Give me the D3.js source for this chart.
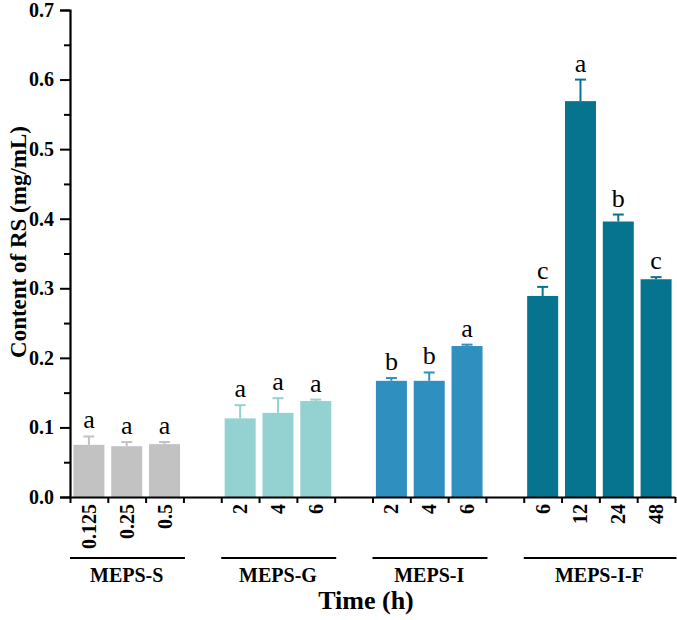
<!DOCTYPE html>
<html>
<head>
<meta charset="utf-8">
<script src="https://cdn.jsdelivr.net/npm/d3@7"></script>
<style>
  body { margin: 0; background: #fff; }
  text { font-family: "Liberation Serif", "Times New Roman", serif; }
</style>
</head>
<body>
<svg id="svg" width="677" height="620"></svg>
<script>
// groups and their time points
var groups = ["MEPS-S", "MEPS-G", "MEPS-I", "MEPS-I-F"];
var times = [["0.125", "0.25", "0.5"], ["2", "4", "6"], ["2", "4", "6"], ["6", "12", "24", "48"]];
var means = [[0.075, 0.073, 0.076], [0.113, 0.121, 0.138], [0.167, 0.167, 0.217], [0.289, 0.569, 0.396, 0.313]];
var errors = [[0.012, 0.006, 0.003], [0.019, 0.021, 0.002], [0.004, 0.012, 0.002], [0.013, 0.031, 0.010, 0.003]];
var letters = [["a", "a", "a"], ["a", "a", "a"], ["b", "b", "a"], ["c", "a", "b", "c"]];
var colors = ["#c2c2c2", "#94d2d2", "#2f8fbe", "#06738f"];
var yTicks = [0, 0.1, 0.2, 0.3, 0.4, 0.5, 0.6, 0.7];

// flatten into slots, one empty slot between groups
var data = [];
var slot = 0;
var groupSpans = [];
groups.forEach(function (g, gi) {
  var start = slot;
  times[gi].forEach(function (t, i) {
    data.push({group: g, gi: gi, time: t, slot: slot, mean: means[gi][i], err: errors[gi][i], letter: letters[gi][i]});
    slot++;
  });
  groupSpans.push({name: g, start: start, end: slot});
  slot++;
});
var nSlots = slot - 1;

var svg = d3.select("#svg");
var margin = {left: 70, right: 675, top: 10, bottom: 497};

var x = d3.scaleLinear().domain([0, nSlots]).range([margin.left, margin.right]);
var y = d3.scaleLinear().domain([0, 0.7]).range([margin.bottom, margin.top]);
var slotW = x(1) - x(0);
var barW = slotW * 0.82;

// bars
svg.selectAll(".bar")
  .data(data)
  .enter()
  .append("rect")
  .attr("x", function (d) { return x(d.slot + 0.5) - barW / 2; })
  .attr("y", function (d) { return y(d.mean); })
  .attr("width", barW)
  .attr("height", function (d) { return y(0) - y(d.mean); })
  .attr("fill", function (d) { return colors[d.gi]; });

// error bars (upper only)
var eb = svg.selectAll(".err").data(data).enter().append("g")
  .attr("stroke", function (d) { return colors[d.gi]; })
  .attr("stroke-width", 2);
eb.append("line")
  .attr("x1", function (d) { return x(d.slot + 0.5); })
  .attr("x2", function (d) { return x(d.slot + 0.5); })
  .attr("y1", function (d) { return y(d.mean); })
  .attr("y2", function (d) { return y(d.mean + d.err); });
eb.append("line")
  .attr("x1", function (d) { return x(d.slot + 0.5) - 5.5; })
  .attr("x2", function (d) { return x(d.slot + 0.5) + 5.5; })
  .attr("y1", function (d) { return y(d.mean + d.err); })
  .attr("y2", function (d) { return y(d.mean + d.err); });

// significance letters
svg.selectAll(".letter")
  .data(data)
  .enter()
  .append("text")
  .attr("x", function (d) { return x(d.slot + 0.5); })
  .attr("y", function (d) { return y(d.mean + d.err) - 8; })
  .attr("text-anchor", "middle")
  .attr("font-size", 26)
  .attr("fill", "#000")
  .text(function (d) { return d.letter; });

// y axis
var yAxis = svg.append("g")
  .attr("transform", "translate(" + margin.left + ",0)")
  .call(d3.axisLeft(y).tickValues(yTicks).tickFormat(d3.format(".1f")).tickSize(10).tickPadding(6));
svg.append("g")
  .attr("transform", "translate(" + margin.left + ",0)")
  .call(d3.axisLeft(y).tickValues(d3.range(0.05, 0.7, 0.1)).tickFormat("").tickSize(6))
  .select(".domain").remove();

// x axis with ticks at slot boundaries
var xAxis = svg.append("g")
  .attr("transform", "translate(0," + margin.bottom + ")")
  .call(d3.axisBottom(x).tickValues(d3.range(0, nSlots + 1)).tickFormat("").tickSize(6).tickSizeOuter(0));

svg.selectAll(".domain").attr("stroke", "#000").attr("stroke-width", 2.2);
svg.selectAll(".tick line").attr("stroke", "#000").attr("stroke-width", 2);
yAxis.selectAll(".tick text")
  .attr("font-family", "Liberation Serif, serif")
  .attr("font-size", 20)
  .attr("font-weight", "bold")
  .attr("fill", "#000");

// time labels, rotated
svg.selectAll(".tlab")
  .data(data)
  .enter()
  .append("text")
  .attr("transform", function (d) { return "translate(" + x(d.slot + 0.5) + "," + (margin.bottom + 7) + ") rotate(-90)"; })
  .attr("text-anchor", "end")
  .attr("dy", "0.35em")
  .attr("font-size", 20)
  .attr("font-weight", "bold")
  .text(function (d) { return d.time; });

// group lines and names
var gs = svg.selectAll(".grp").data(groupSpans).enter().append("g");
gs.append("line")
  .attr("x1", function (d) { return x(d.start); })
  .attr("x2", function (d) { return Math.min(x(d.end) + slotW * 0.04, 677); })
  .attr("y1", 558)
  .attr("y2", 558)
  .attr("stroke", "#000")
  .attr("stroke-width", 2);
gs.append("text")
  .attr("x", function (d) { return (x(d.start) + x(d.end)) / 2; })
  .attr("y", 582)
  .attr("text-anchor", "middle")
  .attr("font-size", 20)
  .attr("font-weight", "bold")
  .text(function (d) { return d.name; });

// axis titles
svg.append("text")
  .attr("x", 366)
  .attr("y", 609)
  .attr("text-anchor", "middle")
  .attr("font-size", 26)
  .attr("font-weight", "bold")
  .text("Time (h)");

svg.append("text")
  .attr("transform", "translate(18,242) rotate(-90)")
  .attr("text-anchor", "middle")
  .attr("dy", "0.35em")
  .attr("font-size", 23)
  .attr("font-weight", "bold")
  .text("Content of RS (mg/mL)");
</script>
</body>
</html>
